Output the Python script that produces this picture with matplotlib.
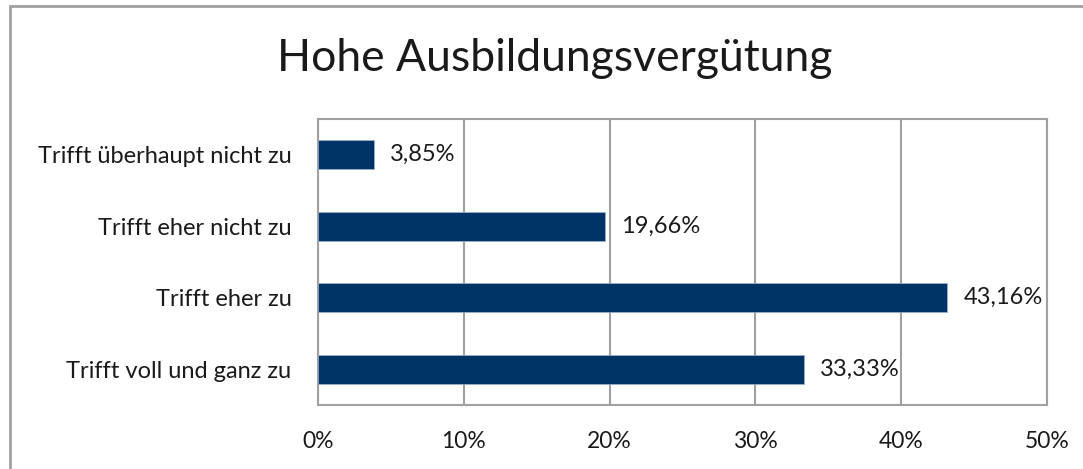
import matplotlib.pyplot as plt
from matplotlib.patches import Rectangle
from matplotlib.ticker import PercentFormatter

# Data
categories = ["Trifft voll und ganz zu", "Trifft eher zu", "Trifft eher nicht zu", "Trifft überhaupt nicht zu"]
values = [33.33, 43.16, 19.66, 3.85]
xticks = [0, 10, 20, 30, 40, 50]

plt.rcParams['font.family'] = ['Lato', 'DejaVu Sans']

fig = plt.figure(figsize=(10.83, 4.69), dpi=100)
ax = fig.add_axes([0.2936, 0.1365, 0.6732, 0.6098])

grey = "#a0a0a0"
bars = ax.barh(range(len(categories)), values, height=0.4, color="#003366",
               edgecolor="#9fb3cc", linewidth=0.5, zorder=3)

for i, v in enumerate(values):
    ax.text(v + 1.1, i, f"{v:.2f}%".replace(".", ","), va="center", ha="left",
            fontsize=17, color="#1a1a1a")

ax.set_xlim(0, 50)
ax.set_ylim(-0.5, len(categories) - 0.5)
ax.set_xticks(xticks)
ax.xaxis.set_major_formatter(PercentFormatter(decimals=0))
ax.set_yticks(range(len(categories)))
ax.set_yticklabels(categories, fontsize=17)
ax.tick_params(axis="both", length=0, colors="#1a1a1a")
ax.tick_params(axis="x", pad=19, labelsize=16.5)
ax.tick_params(axis="y", pad=19)
ax.grid(axis="x", color=grey, linewidth=1.5, zorder=0)
for s in ax.spines.values():
    s.set_color(grey)
    s.set_linewidth(1.5)

fig.text(0.512, 0.876, "Hohe Ausbildungsvergütung", ha="center", va="center",
         fontsize=32, color="#1a1a1a")

# outer chart border (only top and left edges visible)
fig.patches.append(Rectangle((10 / 1083, -0.1), 1.2, 1.1 - 6 / 469,
                             transform=fig.transFigure, fill=False,
                             edgecolor=grey, linewidth=2))

fig.savefig("out.png", dpi=100)
